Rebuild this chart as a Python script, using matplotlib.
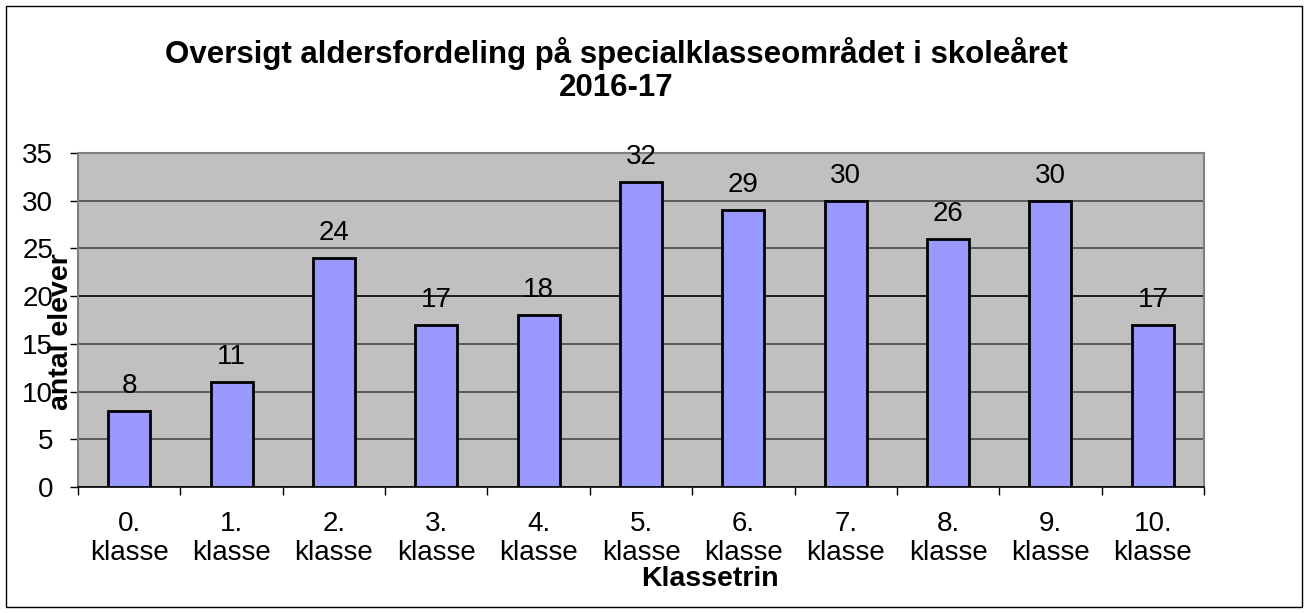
import matplotlib
matplotlib.use("Agg")
import matplotlib.pyplot as plt
from matplotlib.patches import Rectangle

plt.rcParams['font.family'] = ['Liberation Sans', 'DejaVu Sans']

categories = ["0.\nklasse", "1.\nklasse", "2.\nklasse", "3.\nklasse", "4.\nklasse",
              "5.\nklasse", "6.\nklasse", "7.\nklasse", "8.\nklasse", "9.\nklasse",
              "10.\nklasse"]
values = [8, 11, 24, 17, 18, 32, 29, 30, 26, 30, 17]
yticks = [0, 5, 10, 15, 20, 25, 30, 35]

W, H = 1309, 613
fig = plt.figure(figsize=(W / 100, H / 100), dpi=100)
fig.patch.set_facecolor("white")
fig.patches.append(Rectangle((6 / W, 6 / H), (1302 - 6) / W, (607 - 6) / H,
                             transform=fig.transFigure, fill=False,
                             edgecolor="black", linewidth=1.0))

left, right, top, bottom = 78, 1204, 153, 487
ax = fig.add_axes([left / W, 1 - bottom / H, (right - left) / W, (bottom - top) / H])
ax.set_facecolor("#C0C0C0")
x = list(range(len(values)))
ax.bar(x, values, width=0.41, color="#9999FF", edgecolor="black", linewidth=2, zorder=3)
ax.set_xlim(-0.5, len(values) - 0.5)
ax.set_ylim(0, 35)
ax.set_yticks(yticks)
ax.set_yticklabels([str(t) for t in yticks], fontsize=20)
ax.yaxis.grid(True, color="#4a4a4a", linewidth=1.2, zorder=1)
ax.set_axisbelow(True)
for t, gl in zip(yticks, ax.get_ygridlines()):
    if t == 20:
        gl.set_color("black")
ax.tick_params(axis="y", length=6, width=1, color="black", pad=12)
ax.set_xticks(x)
ax.set_xticklabels(categories, fontsize=20, linespacing=1.17)
ax.tick_params(axis="x", length=0, pad=17)
ax.set_xticks([i - 0.5 for i in range(len(values) + 1)], minor=True)
ax.tick_params(axis="x", which="minor", length=6, width=1, color="black")

for sp in ["top", "right"]:
    ax.spines[sp].set_color("#808080")
    ax.spines[sp].set_linewidth(1.5)
ax.spines["left"].set_color("#808080")
ax.spines["left"].set_linewidth(1.5)
ax.spines["bottom"].set_color("black")
ax.spines["bottom"].set_linewidth(1.2)

for xi, v in zip(x, values):
    ax.annotate(str(v), (xi, v), xytext=(0, 18), textcoords="offset points",
                ha="center", va="center", fontsize=20, zorder=4)

fig.text(616 / W, 1 - 54 / H, "Oversigt aldersfordeling på specialklasseområdet i skoleåret",
         ha="center", va="center", fontsize=22.5, fontweight="bold")
fig.text(616 / W, 1 - 88 / H, "2016-17", ha="center", va="center",
         fontsize=22.5, fontweight="bold")
fig.text(710 / W, 1 - 579 / H, "Klassetrin", ha="center", va="center",
         fontsize=20.5, fontweight="bold")
fig.text(61 / W, 1 - 332 / H, "antal elever", ha="center", va="center",
         rotation=90, fontsize=20.5, fontweight="bold")

fig.savefig("out.png", dpi=100)
